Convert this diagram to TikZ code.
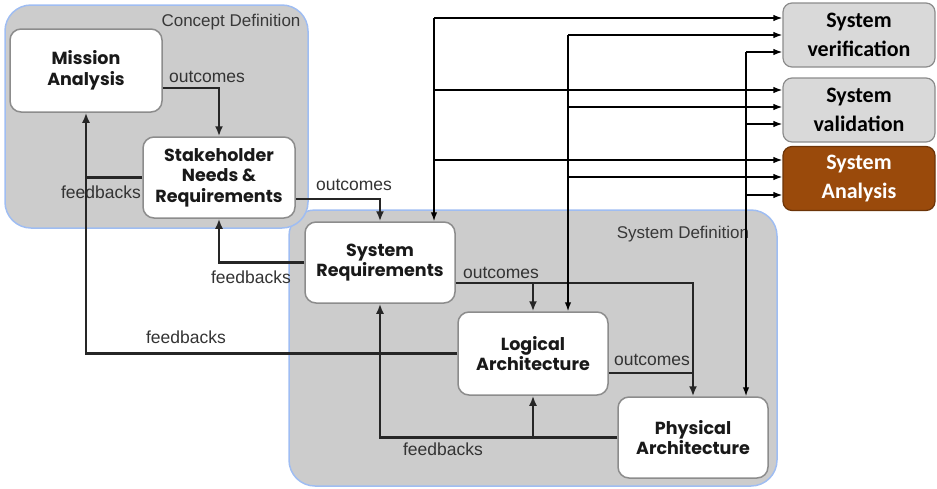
\documentclass[tikz,border=0pt]{standalone}
\usepackage{fontspec}
\setmainfont{Liberation Sans}
\newfontfamily\boxfont{Poppins}
\newfontfamily\calfont{Carlito}
\usetikzlibrary{arrows.meta}
\definecolor{grp}{HTML}{CCCCCC}
\definecolor{grpline}{HTML}{9FBDF2}
\definecolor{anbrown}{HTML}{9A4A0B}
\definecolor{sidegray}{HTML}{D9D9D9}
\begin{document}
\begin{tikzpicture}[x=1pt,y=-1pt,
  group/.style={draw=grpline, fill=grp, rounded corners=26pt, line width=1.5pt, inner sep=0pt},
  grplbl/.style={text=black!78, font=\fontsize{17}{20}\selectfont, inner sep=0pt},
  blk/.style={draw=black!45, fill=white, rounded corners=11pt, line width=1.5pt, align=center,
    font=\boxfont\bfseries\fontsize{17.5}{20.5}\selectfont, inner sep=0pt, text=black!90},
  side/.style={draw=black!45, fill=sidegray, rounded corners=9pt, line width=1.2pt, align=center,
    font=\calfont\bfseries\fontsize{22}{29}\selectfont, inner sep=0pt,
    minimum width=152pt, minimum height=64pt},
  lbl/.style={text=black!80, font=\fontsize{17.5}{20}\selectfont, inner sep=0pt},
  conn/.style={draw=black!85, line width=2.2pt, -{Latex[length=10pt,width=8pt]}},
  plain/.style={draw=black!85, line width=2.2pt},
  thin/.style={draw=black, line width=1.4pt, -{Latex[length=9pt,width=6.5pt]}}
]
\useasboundingbox (0,0) rectangle (937,488);
% groups
\node[group, minimum width=488pt, minimum height=276pt] (sdef) at (533,348) {};
\node[group, minimum width=303pt, minimum height=223pt] (cdef) at (156.5,116.5) {};
\node[grplbl] (cdefl) at (231,22) {Concept Definition};
\node[grplbl] (sdefl) at (683,234) {System Definition};
% blocks
\node[blk, minimum width=152pt, minimum height=83pt] (ma) at (86,70.5) {Mission\\Analysis};
\node[blk, minimum width=152pt, minimum height=81pt] (snr) at (219,177.5) {Stakeholder\\Needs \&\\Requirements};
\node[blk, minimum width=150pt, minimum height=81pt] (sr) at (380,262.5) {System\\Requirements};
\node[blk, minimum width=150pt, minimum height=83pt] (la) at (533,353.5) {Logical\\Architecture};
\node[blk, minimum width=150pt, minimum height=81pt] (pa) at (693,437.5) {Physical\\Architecture};
% side boxes
\node[side] (ver) at (859,35) {System\\verification};
\node[side] (val) at (859,110) {System\\validation};
\node[side, fill=anbrown, draw=anbrown!70!black, text=white] (ana) at (859,178.5) {System\\Analysis};
% inner connectors
\draw[conn] (ma.east |- 0,88) -| (snr.north);
\node[lbl] (o1) at (207,77) {outcomes};
\draw[conn] (snr.west) -| (ma.south);
\node[lbl] (f1) at (101,192) {feedbacks};
\draw[conn] (snr.east |- 0,199) -| (sr.north);
\node[lbl] (o2) at (354,185) {outcomes};
\draw[conn] (sr.west) -| (snr.south);
\node[lbl] (f2) at (251,277) {feedbacks};
\coordinate (j0) at (snr.west -| ma.south);
\draw[plain] (la.west) -| (j0);
\node[lbl] (f3) at (186,337) {feedbacks};
\draw[conn] (sr.east |- 0,283) -| (la.north);
\draw[conn] (sr.east |- 0,283) -| (pa.north);
\node[lbl] (o3) at (501,273) {outcomes};
\coordinate (j2) at (pa.north |- 0,373);
\draw[plain] (la.east |- j2) -- (j2);
\node[lbl] (o4) at (652,360) {outcomes};
\draw[conn] (pa.west) -| (sr.south);
\draw[conn] (pa.west) -| (la.south);
\node[lbl] (f4) at (443,449) {feedbacks};
% top connectors
\coordinate (t1) at (434,18);
\coordinate (t1b) at (434,90);
\coordinate (t1c) at (434,160);
\coordinate (t2) at (568,35);
\coordinate (t2b) at (568,107);
\coordinate (t2c) at (568,177);
\coordinate (t3) at (746,52);
\coordinate (t3b) at (746,124);
\coordinate (t3c) at (746,195);
\draw[thin] (t1) -- (sr.north -| t1);
\draw[thin] (t2) -- (la.north -| t2);
\draw[thin] (t3) -- (pa.north -| t3);
\draw[thin] (t1) -- (ver.west |- t1);
\draw[thin] (t2) -- (ver.west |- t2);
\draw[thin] (t3) -- (ver.west |- t3);
\draw[thin] (t1b) -- (val.west |- t1b);
\draw[thin] (t2b) -- (val.west |- t2b);
\draw[thin] (t3b) -- (val.west |- t3b);
\draw[thin] (t1c) -- (ana.west |- t1c);
\draw[thin] (t2c) -- (ana.west |- t2c);
\draw[thin] (t3c) -- (ana.west |- t3c);
\end{tikzpicture}
\end{document}
